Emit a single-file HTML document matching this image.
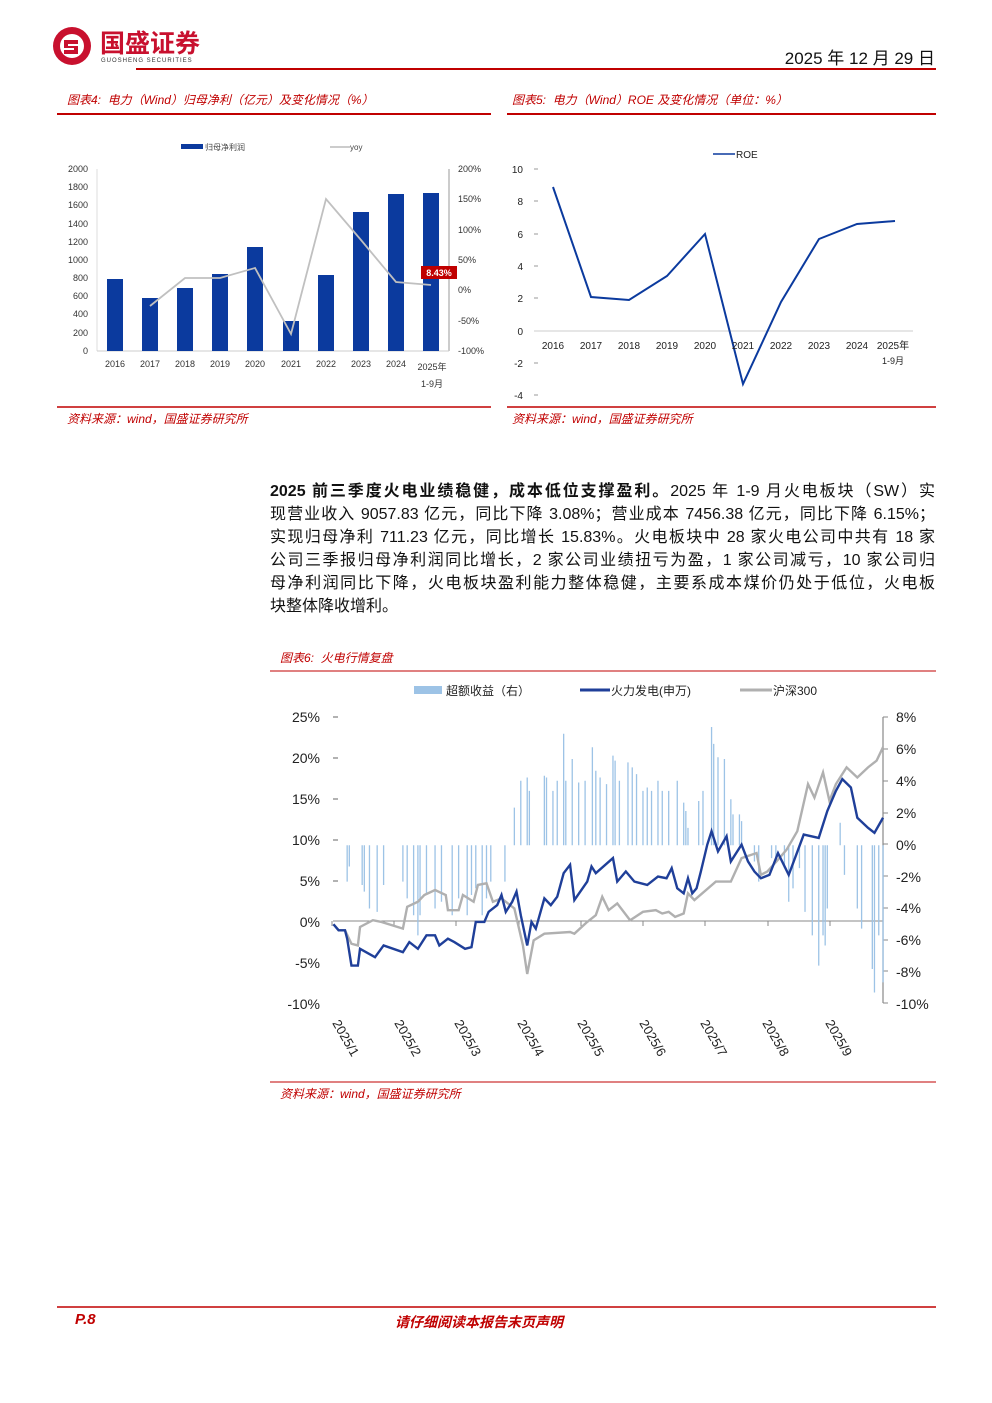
<!DOCTYPE html>
<html><head><meta charset="utf-8"><style>
body{margin:0;background:#fff;}
#p{position:relative;width:992px;height:1403px;overflow:hidden;font-family:"Liberation Sans","Noto Sans CJK SC",sans-serif;}
.t{position:absolute;white-space:nowrap;}
.cap{color:#c00000;font-style:italic;font-size:12px;}
.para{position:absolute;left:270px;width:665px;font-size:16px;line-height:23px;color:#111;}
.para div{text-align:justify;text-align-last:justify;height:23px;}
</style></head><body><div id="p">
<svg width="992" height="1403" style="position:absolute;left:0;top:0" font-family="Liberation Sans, Noto Sans CJK SC, sans-serif">
<!-- logo -->
<circle cx="72" cy="46" r="19" fill="#c8102e"/>
<circle cx="72" cy="46" r="12" fill="#fff"/>
<path d="M64 40 h14 v4 h-10 v2 h10 v8 h-14 v-4 h10 v-2 h-10z" fill="#c8102e"/>
<text x="100" y="52" font-size="25" font-weight="bold" fill="#c8102e">国盛证券</text>
<text x="101" y="62" font-size="6" fill="#333" letter-spacing="1">GUOSHENG SECURITIES</text>
<text x="935" y="64" font-size="17" text-anchor="end" fill="#111">2025 年 12 月 29 日</text>
<line x1="136" y1="69" x2="936" y2="69" stroke="#c00000" stroke-width="2"/>
<line x1="57" y1="114" x2="491" y2="114" stroke="#c00000" stroke-width="2"/>
<line x1="507" y1="114" x2="936" y2="114" stroke="#c00000" stroke-width="2"/>
<line x1="57" y1="407" x2="491" y2="407" stroke="#c00000" stroke-width="1.5"/>
<line x1="507" y1="407" x2="936" y2="407" stroke="#c00000" stroke-width="1.5"/>
<line x1="270" y1="671" x2="936" y2="671" stroke="#c00000" stroke-width="1"/>
<line x1="270" y1="1082" x2="936" y2="1082" stroke="#c00000" stroke-width="1"/>
<line x1="57" y1="1307" x2="936" y2="1307" stroke="#c00000" stroke-width="1.5"/>

<!-- Chart 4 -->
<rect x="181" y="144" width="22" height="5" fill="#0b3a9e"/>
<text x="205" y="150" font-size="8" fill="#444">归母净利润</text>
<line x1="330" y1="147" x2="350" y2="147" stroke="#bbb" stroke-width="1.5"/>
<text x="350" y="150" font-size="8" fill="#444">yoy</text>
<g font-size="9" fill="#333" text-anchor="end">
<text x="88" y="172">2000</text><text x="88" y="190">1800</text><text x="88" y="208">1600</text><text x="88" y="227">1400</text><text x="88" y="245">1200</text><text x="88" y="263">1000</text><text x="88" y="281">800</text><text x="88" y="299">600</text><text x="88" y="317">400</text><text x="88" y="336">200</text><text x="88" y="354">0</text>
</g>
<g font-size="9" fill="#333">
<text x="458" y="172">200%</text><text x="458" y="202">150%</text><text x="458" y="233">100%</text><text x="458" y="263">50%</text><text x="458" y="293">0%</text><text x="458" y="324">-50%</text><text x="458" y="354">-100%</text>
</g>
<line x1="97" y1="169" x2="97" y2="351" stroke="#ddd"/>
<line x1="449" y1="169" x2="449" y2="351" stroke="#999"/>
<line x1="97" y1="351" x2="449" y2="351" stroke="#ccc"/>
<g fill="#0b3a9e">
<rect x="107" y="279" width="16" height="72"/><rect x="142" y="298" width="16" height="53"/><rect x="177" y="288" width="16" height="63"/><rect x="212" y="274" width="16" height="77"/><rect x="247" y="247" width="16" height="104"/><rect x="283" y="321" width="16" height="30"/><rect x="318" y="275" width="16" height="76"/><rect x="353" y="212" width="16" height="139"/><rect x="388" y="194" width="16" height="157"/><rect x="423" y="193" width="16" height="158"/>
</g>
<polyline points="150,306 185,278 220,278 255,268 291,334 326,199 361,240 396,282 431,285" fill="none" stroke="#c0c0c0" stroke-width="1.8"/>
<rect x="421" y="266" width="36" height="13" fill="#c00000"/>
<text x="439" y="276" font-size="9" font-weight="bold" fill="#fff" text-anchor="middle">8.43%</text>
<g font-size="9" fill="#333" text-anchor="middle">
<text x="115" y="367">2016</text><text x="150" y="367">2017</text><text x="185" y="367">2018</text><text x="220" y="367">2019</text><text x="255" y="367">2020</text><text x="291" y="367">2021</text><text x="326" y="367">2022</text><text x="361" y="367">2023</text><text x="396" y="367">2024</text><text x="432" y="370">2025年</text><text x="432" y="387">1-9月</text>
</g>

<!-- Chart 5 -->
<line x1="713" y1="154" x2="735" y2="154" stroke="#0b3a9e" stroke-width="1.5"/>
<text x="736" y="158" font-size="10" fill="#222">ROE</text>
<g font-size="10" fill="#222" text-anchor="end">
<text x="523" y="173">10</text><text x="523" y="205">8</text><text x="523" y="238">6</text><text x="523" y="270">4</text><text x="523" y="302">2</text><text x="523" y="335">0</text><text x="523" y="367">-2</text><text x="523" y="399">-4</text>
</g>
<g stroke="#999"><line x1="534" y1="169" x2="538" y2="169"/><line x1="534" y1="201" x2="538" y2="201"/><line x1="534" y1="234" x2="538" y2="234"/><line x1="534" y1="266" x2="538" y2="266"/><line x1="534" y1="298" x2="538" y2="298"/><line x1="534" y1="363" x2="538" y2="363"/><line x1="534" y1="395" x2="538" y2="395"/></g>
<line x1="534" y1="331" x2="913" y2="331" stroke="#ccc"/>
<polyline points="553,187 591,297 629,300 667,276 705,234 743,384 781,302 819,239 857,224 895,221" fill="none" stroke="#0b3a9e" stroke-width="2"/>
<g font-size="10" fill="#222" text-anchor="middle">
<text x="553" y="349">2016</text><text x="591" y="349">2017</text><text x="629" y="349">2018</text><text x="667" y="349">2019</text><text x="705" y="349">2020</text><text x="743" y="349">2021</text><text x="781" y="349">2022</text><text x="819" y="349">2023</text><text x="857" y="349">2024</text><text x="893" y="349">2025年</text><text x="893" y="364" font-size="9">1-9月</text>
</g>

<!-- Chart 6 -->
<rect x="414" y="686" width="28" height="8" fill="#9dc3e6"/>
<text x="446" y="695" font-size="12" fill="#222">超额收益（右）</text>
<line x1="580" y1="690" x2="610" y2="690" stroke="#1f3f99" stroke-width="3"/>
<text x="611" y="695" font-size="12" fill="#222">火力发电(申万)</text>
<line x1="740" y1="690" x2="772" y2="690" stroke="#b0b0b0" stroke-width="3"/>
<text x="773" y="695" font-size="12" fill="#222">沪深300</text>
<g font-size="14" fill="#222" text-anchor="end">
<text x="320" y="722">25%</text><text x="320" y="763">20%</text><text x="320" y="804">15%</text><text x="320" y="845">10%</text><text x="320" y="886">5%</text><text x="320" y="927">0%</text><text x="320" y="968">-5%</text><text x="320" y="1009">-10%</text>
</g>
<g font-size="14" fill="#222">
<text x="896" y="722">8%</text><text x="896" y="754">6%</text><text x="896" y="786">4%</text><text x="896" y="818">2%</text><text x="896" y="850">0%</text><text x="896" y="882">-2%</text><text x="896" y="913">-4%</text><text x="896" y="945">-6%</text><text x="896" y="977">-8%</text><text x="896" y="1009">-10%</text>
</g>
<g stroke="#666"><line x1="333" y1="717" x2="338" y2="717"/><line x1="333" y1="758" x2="338" y2="758"/><line x1="333" y1="799" x2="338" y2="799"/><line x1="333" y1="840" x2="338" y2="840"/><line x1="333" y1="881" x2="338" y2="881"/></g>
<line x1="883" y1="717" x2="883" y2="1003" stroke="#888" stroke-width="1.2"/>
<g stroke="#888"><line x1="883" y1="717" x2="888" y2="717"/><line x1="883" y1="749" x2="888" y2="749"/><line x1="883" y1="781" x2="888" y2="781"/><line x1="883" y1="813" x2="888" y2="813"/><line x1="883" y1="844" x2="888" y2="844"/><line x1="883" y1="876" x2="888" y2="876"/><line x1="883" y1="908" x2="888" y2="908"/><line x1="883" y1="940" x2="888" y2="940"/><line x1="883" y1="971" x2="888" y2="971"/><line x1="883" y1="1003" x2="888" y2="1003"/></g>
<line x1="333" y1="921" x2="883" y2="921" stroke="#888"/>
<g stroke="#888"><line x1="332" y1="921" x2="332" y2="926"/><line x1="394" y1="921" x2="394" y2="926"/><line x1="456" y1="921" x2="456" y2="926"/><line x1="519" y1="921" x2="519" y2="926"/><line x1="581" y1="921" x2="581" y2="926"/><line x1="643" y1="921" x2="643" y2="926"/><line x1="705" y1="921" x2="705" y2="926"/><line x1="768" y1="921" x2="768" y2="926"/><line x1="830" y1="921" x2="830" y2="926"/></g>
<g transform="translate(270,680) scale(0.4287,0.336)" fill="none">
<path vector-effect="non-scaling-stroke" stroke="#9dc3e6" stroke-width="1.3" d="M180 492V600M185 492V555M215 492V610M220 492V630M232 492V680M250 492V690M265 492V610M310 492V600M320 492V650M335 492V700M345 492V760M350 492V700M365 492V640M385 492V680M400 492V660M425 492V700M440 492V650M460 492V700M470 492V640M480 492V620M495 492V700M505 492V650M515 492V600M548 492V600M570 492V380M585 492V300M600 492V290M605 492V330M640 492V285M645 492V290M660 492V330M670 492V300M685 492V160M690 492V300M705 492V235M720 492V305M735 492V300M752 492V200M760 492V270M770 492V290M785 492V310M800 492V225M805 492V240M815 492V300M835 492V245M845 492V260M855 492V280M870 492V330M880 492V320M890 492V330M905 492V300M915 492V330M930 492V330M950 492V300M965 492V365M970 492V390M975 492V440M1000 492V360M1010 492V330M1030 492V140M1035 492V190M1045 492V230M1060 492V235M1075 492V355M1080 492V400M1095 492V400M1100 492V420M1130 492V540M1140 492V600M1170 492V530M1180 492V540M1200 492V560M1210 492V660M1220 492V620M1235 492V560M1248 492V690M1265 492V760M1280 492V850M1290 492V760M1295 492V790M1300 492V680M1330 492V425M1340 492V580M1370 492V680M1380 492V740M1405 492V860M1410 492V930M1420 492V760M1430 492V900"/>
<polyline vector-effect="non-scaling-stroke" stroke="#b0b0b0" stroke-width="2.4" points="148,727 160,745 175,745 190,785 205,790 210,735 240,715 260,720 310,740 320,675 345,660 360,640 385,625 410,640 415,685 440,685 450,640 475,660 485,610 505,605 520,660 540,650 570,680 590,790 600,875 615,775 640,755 700,750 710,755 740,720 760,700 775,645 790,685 810,665 840,715 870,690 900,685 915,695 930,690 945,705 965,695 975,635 990,655 1040,600 1075,600 1100,530 1135,515 1145,580 1160,570 1185,535 1205,505 1230,450 1255,310 1270,350 1290,275 1305,360 1320,310 1345,260 1370,290 1395,260 1415,240 1430,200"/>
<polyline vector-effect="non-scaling-stroke" stroke="#1f3f99" stroke-width="2.4" points="148,727 160,745 175,745 180,770 190,850 205,850 210,800 245,825 265,790 310,810 325,780 345,800 365,760 385,760 395,790 415,770 430,780 455,800 470,795 480,720 500,720 510,690 530,670 540,640 550,690 565,660 575,630 585,700 600,790 610,720 620,740 640,650 655,670 670,645 685,575 700,550 710,655 740,600 750,555 760,575 800,530 810,600 830,570 850,600 880,610 905,585 925,590 937,560 950,620 965,635 975,590 985,635 995,620 1005,570 1020,490 1030,450 1045,510 1065,465 1075,540 1100,490 1115,540 1130,570 1145,590 1165,580 1185,515 1210,580 1245,460 1280,470 1300,390 1320,330 1335,295 1355,320 1370,410 1395,440 1410,455 1430,410"/>
</g>
<g font-size="13" fill="#222">
<text transform="translate(332,1023) rotate(60)">2025/1</text>
<text transform="translate(394,1023) rotate(60)">2025/2</text>
<text transform="translate(454,1023) rotate(60)">2025/3</text>
<text transform="translate(517,1023) rotate(60)">2025/4</text>
<text transform="translate(577,1023) rotate(60)">2025/5</text>
<text transform="translate(639,1023) rotate(60)">2025/6</text>
<text transform="translate(700,1023) rotate(60)">2025/7</text>
<text transform="translate(762,1023) rotate(60)">2025/8</text>
<text transform="translate(825,1023) rotate(60)">2025/9</text>
</g>
</svg>
<div class="t cap" style="left:67px;top:91px">图表4:&nbsp; 电力（Wind）归母净利（亿元）及变化情况（%）</div>
<div class="t cap" style="left:512px;top:91px">图表5:&nbsp; 电力（Wind）ROE 及变化情况（单位：%）</div>
<div class="t cap" style="left:67px;top:410px">资料来源：wind，国盛证券研究所</div>
<div class="t cap" style="left:512px;top:410px">资料来源：wind，国盛证券研究所</div>
<div class="t cap" style="left:280px;top:649px">图表6:&nbsp; 火电行情复盘</div>
<div class="t cap" style="left:280px;top:1085px">资料来源：wind，国盛证券研究所</div>
<div class="para" style="top:480px">
<div><b>2025 前三季度火电业绩稳健，成本低位支撑盈利。</b>2025 年 1-9 月火电板块（SW）实</div>
<div>现营业收入 9057.83 亿元，同比下降 3.08%；营业成本 7456.38 亿元，同比下降 6.15%；</div>
<div>实现归母净利 711.23 亿元，同比增长 15.83%。火电板块中 28 家火电公司中共有 18 家</div>
<div>公司三季报归母净利润同比增长，2 家公司业绩扭亏为盈，1 家公司减亏，10 家公司归</div>
<div>母净利润同比下降，火电板块盈利能力整体稳健，主要系成本煤价仍处于低位，火电板</div>
<div style="text-align-last:left">块整体降收增利。</div>
</div>
<div class="t" style="left:75px;top:1311px;color:#c00000;font-weight:bold;font-style:italic;font-size:15px">P.8</div>
<div class="t" style="left:395px;top:1312px;color:#c00000;font-weight:bold;font-style:italic;font-size:14px">请仔细阅读本报告末页声明</div>
</div></body></html>
